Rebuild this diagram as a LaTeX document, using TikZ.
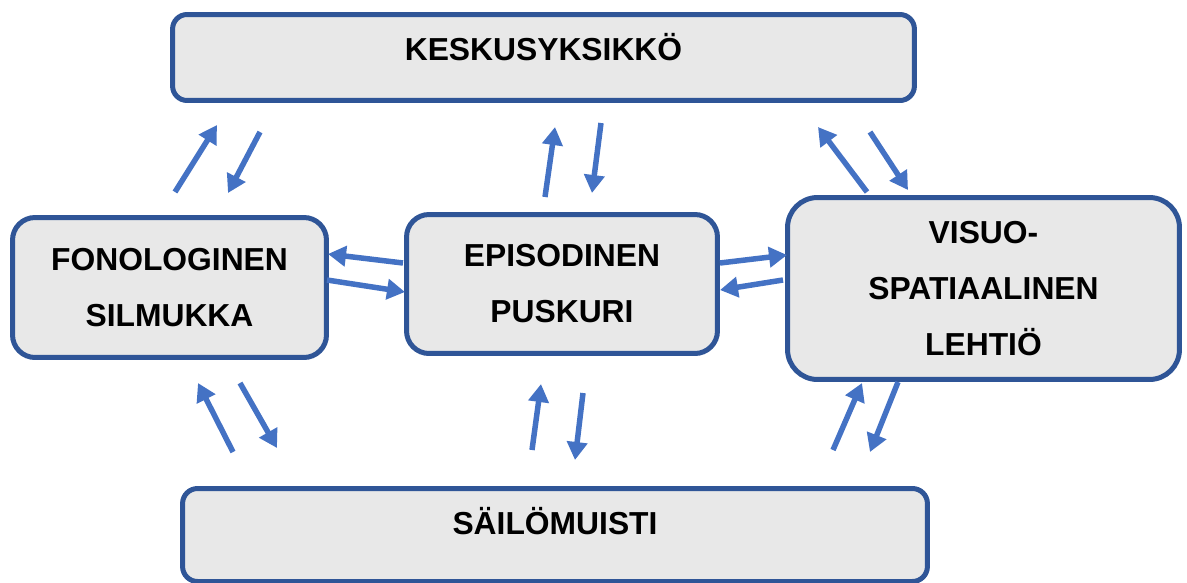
\documentclass[tikz,border=0pt]{standalone}
\usepackage{fontspec}
\setmainfont{Liberation Sans}
\usetikzlibrary{arrows.meta}
\definecolor{FrameBlue}{HTML}{2F5597}
\definecolor{BoxGray}{HTML}{E8E8E8}
\definecolor{ArrowBlue}{HTML}{4472C4}
\tikzset{
  box/.style={rounded corners=#1, draw=FrameBlue, fill=BoxGray, line width=0.1cm, align=center, font=\fontsize{18.1}{31.9}\selectfont\bfseries},
  box/.default=0.45cm,
  arr/.style={-{Triangle[length=0.36cm,width=0.4cm]}, line width=0.11cm, draw=ArrowBlue}
}
\begin{document}
\begin{tikzpicture}[x=0.02cm, y=-0.02cm]
\useasboundingbox (0,0) rectangle (1187,582);
\node[box=0.29cm, minimum width=14.84cm, minimum height=1.72cm, text height=0.5cm, text depth=0.38cm] (kesk) at (543.5,57.5) {KESKUSYKSIKKÖ};
\node[box, minimum width=6.28cm, minimum height=2.8cm] (fono) at (169.5,287.5) {FONOLOGINEN\\SILMUKKA};
\node[box, minimum width=6.22cm, minimum height=2.78cm] (epis) at (562,284) {EPISODINEN\\PUSKURI};
\node[box=0.6cm, minimum width=7.84cm, minimum height=3.64cm] (visuo) at (983.5,288.5) {VISUO-\\SPATIAALINEN\\LEHTIÖ};
\node[box=0.3cm, minimum width=14.9cm, minimum height=1.86cm, text height=0.4cm, text depth=0.44cm] (sailo) at (555,535) {SÄILÖMUISTI};
% arrows between the boxes
\foreach \n/\xa/\ya/\xb/\yb in {1/175/192/217/125, 2/260/132/228/193, 3/545/197/555/127, 4/601/123/592/193,
  5/867/192/818/127, 6/870/132/908/190, 7/403/263/328/254, 8/327/280/405/292,
  9/720/263/787/255, 10/783/280/720/290, 11/233/452/198/383, 12/240/383/277/448,
  13/532/450/541/384, 14/583/393/575/460, 15/833/450/862/383, 16/898/382/870/452}{
  \coordinate (s\n) at (\xa,\ya);
  \coordinate (e\n) at (\xb,\yb);
  \draw[arr] (s\n) -- (e\n);
}
\end{tikzpicture}
\end{document}
